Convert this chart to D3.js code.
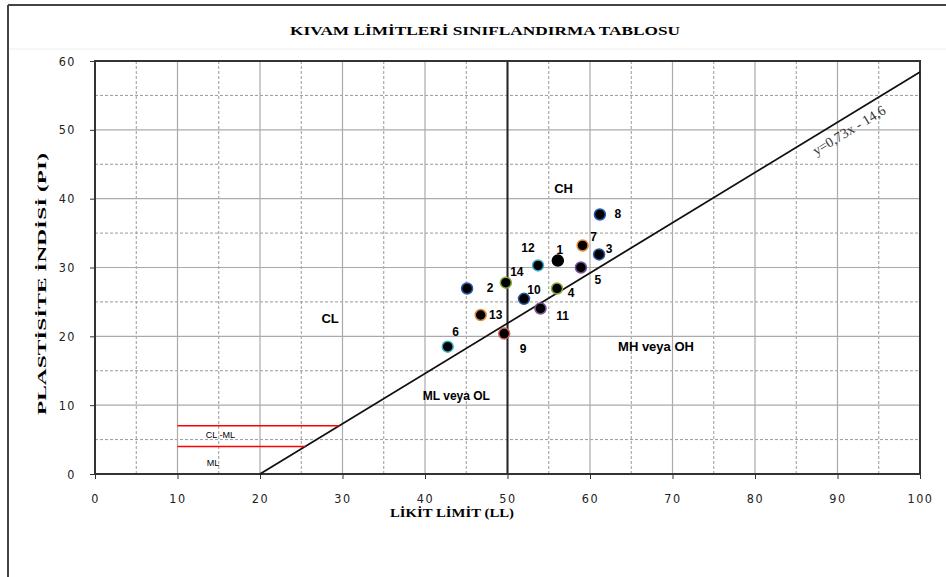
<!DOCTYPE html>
<html><head><meta charset="utf-8">
<script src="https://cdn.jsdelivr.net/npm/d3@7"></script>
<style>html,body{margin:0;padding:0;background:#fff}svg{display:block}</style>
</head><body>
<script>
// ---- data ----
const sampleIds = [1,2,3,4,5,6,7,8,9,10,11,12,13,14];
const liquidLimit = [56.1,45.1,61.1,56.0,58.9,42.75,59.1,61.2,49.6,52.0,54.0,53.7,46.75,49.8];
const plasticityIndex = [31.0,26.95,31.9,26.95,30.0,18.5,33.2,37.7,20.4,25.45,24.05,30.3,23.1,27.8];
const xTicks = [0,10,20,30,40,50,60,70,80,90,100];
const yTicks = [0,10,20,30,40,50,60];
const aLine = {slope:0.73, intercept:-14.6, x0:20, x1:100};
const clmlUpper = {y:7, x0:10};
const clmlLower = {y:4, x0:10};
const zoneLabels = [
  {text:"CH", x:56.8, y:41.5, size:13},
  {text:"CL", x:28.5, y:22.6, size:13},
  {text:"MH veya OH", x:68, y:18.5, size:13},
  {text:"ML veya OL", x:43.8, y:11.3, size:12}
];

// ---- layout / style ----
const edgeColors = ["#000","#2a5aa8","#2a5aa8","#86ad3a","#7b4f9e","#3fb0cf","#e28a3a","#2a5aa8","#d0605c","#2a5aa8","#7b4f9e","#3fb0cf","#e28a3a","#86ad3a"];
const labelOffsets = [[2,-11],[23,0],[10,-5],[14,5],[17,12],[8,-15],[11,-8],[18,0],[19,15],[10,-9],[22,8],[-10,-17],[15,0],[11,-11]];

const W=946,H=577;
const svg=d3.select("body").append("svg").attr("width",W).attr("height",H);
const L=95,R=920,T=61,B=474;
const x=d3.scaleLinear().domain([0,100]).range([L,R]);
const y=d3.scaleLinear().domain([0,60]).range([B,T]);

// outer frame
svg.append("line").attr("x1",8).attr("x2",8).attr("y1",5).attr("y2",H).attr("stroke","#444").attr("stroke-width",2);
svg.append("line").attr("x1",8).attr("x2",W).attr("y1",5).attr("y2",5).attr("stroke","#444").attr("stroke-width",2);
svg.append("line").attr("x1",9).attr("x2",W).attr("y1",49).attr("y2",49).attr("stroke","#eee").attr("stroke-width",1);

// title
svg.append("text").attr("x",485).attr("y",35).attr("text-anchor","middle")
  .attr("font-family","Liberation Serif").attr("font-weight","bold").attr("font-size",13)
  .attr("textLength",390).attr("lengthAdjust","spacingAndGlyphs")
  .text("KIVAM LİMİTLERİ SINIFLANDIRMA TABLOSU");

// grid
const g=svg.append("g");
const minorX=d3.range(5,100,10), minorY=d3.range(5,60,10);
g.selectAll(".vmin").data(minorX).join("line").attr("x1",d=>x(d)).attr("x2",d=>x(d)).attr("y1",T).attr("y2",B)
  .attr("stroke","#999").attr("stroke-dasharray","3,2").attr("stroke-width",1);
g.selectAll(".hmin").data(minorY).join("line").attr("y1",d=>y(d)).attr("y2",d=>y(d)).attr("x1",L).attr("x2",R)
  .attr("stroke","#999").attr("stroke-dasharray","3,2").attr("stroke-width",1);
g.selectAll(".vmaj").data(xTicks.slice(1,-1)).join("line").attr("x1",d=>x(d)).attr("x2",d=>x(d)).attr("y1",T).attr("y2",B)
  .attr("stroke","#aaa").attr("stroke-width",1.2);
g.selectAll(".hmaj").data(yTicks.slice(1,-1)).join("line").attr("y1",d=>y(d)).attr("y2",d=>y(d)).attr("x1",L).attr("x2",R)
  .attr("stroke","#aaa").attr("stroke-width",1.2);

// LL=50 divider
svg.append("line").attr("x1",x(50)).attr("x2",x(50)).attr("y1",T).attr("y2",B).attr("stroke","#222").attr("stroke-width",2);

// axes
const xAxis=svg.append("g").attr("transform",`translate(0,${B})`).call(d3.axisBottom(x).tickValues(xTicks).tickSize(5).tickPadding(15));
const yAxis=svg.append("g").attr("transform",`translate(${L},0)`).call(d3.axisLeft(y).tickValues(yTicks).tickSize(5).tickPadding(14));
[xAxis,yAxis].forEach(a=>{
  a.select(".domain").remove();
  a.selectAll(".tick line").attr("stroke","#333").attr("stroke-width",1);
  a.selectAll(".tick text").attr("font-family","Liberation Sans Narrow, DejaVu Sans Condensed, sans-serif")
   .attr("font-size",12.5).attr("fill","#222").attr("letter-spacing","1.5px");
});
// plot border
svg.append("rect").attr("x",L).attr("y",T).attr("width",R-L).attr("height",B-T).attr("fill","none").attr("stroke","#333").attr("stroke-width",2);

// A-line
svg.append("line").attr("x1",x(aLine.x0)).attr("y1",y(aLine.slope*aLine.x0+aLine.intercept))
  .attr("x2",x(aLine.x1)).attr("y2",y(aLine.slope*aLine.x1+aLine.intercept)).attr("stroke","#111").attr("stroke-width",1.8);
const ang=Math.atan2(y(aLine.slope*aLine.x1+aLine.intercept)-y(aLine.slope*aLine.x0+aLine.intercept), x(aLine.x1)-x(aLine.x0))*180/Math.PI;
svg.append("text").attr("transform",`translate(${x(91.4)},${y(49.9)}) rotate(${ang})`).attr("text-anchor","middle")
  .attr("dominant-baseline","central")
  .attr("font-family","Liberation Serif").attr("font-size",14).attr("fill","#333").text("y=0,73x - 14,6");

// CL-ML lines
[clmlUpper,clmlLower].forEach(s=>{
  const xe=(s.y-aLine.intercept)/aLine.slope;
  svg.append("line").attr("x1",x(s.x0)).attr("x2",x(xe)).attr("y1",y(s.y)).attr("y2",y(s.y)).attr("stroke","#f00").attr("stroke-width",1.6);
});
svg.append("text").attr("x",x(15.2)).attr("y",y(5.6)).attr("text-anchor","middle").attr("dominant-baseline","central")
  .attr("font-family","Liberation Sans").attr("font-size",9).text("CL -ML");
svg.append("text").attr("x",x(14.3)).attr("y",y(1.6)).attr("text-anchor","middle").attr("dominant-baseline","central")
  .attr("font-family","Liberation Sans").attr("font-size",9).text("ML");

// zone labels
svg.selectAll(".zone").data(zoneLabels).join("text").attr("x",d=>x(d.x)).attr("y",d=>y(d.y))
  .attr("text-anchor","middle").attr("dominant-baseline","central").attr("font-family","Liberation Sans")
  .attr("font-weight","bold").attr("font-size",d=>d.size).text(d=>d.text);

// points
const pts=sampleIds.map((id,i)=>({id,ll:liquidLimit[i],pi:plasticityIndex[i],c:edgeColors[i],o:labelOffsets[i]}));
svg.selectAll(".pt").data(pts).join("circle").attr("cx",d=>x(d.ll)).attr("cy",d=>y(d.pi)).attr("r",5.5)
  .attr("fill","#000").attr("stroke",d=>d.c).attr("stroke-width",1.5);
svg.selectAll(".pl").data(pts).join("text").attr("x",d=>x(d.ll)+d.o[0]).attr("y",d=>y(d.pi)+d.o[1])
  .attr("text-anchor","middle").attr("dominant-baseline","central").attr("font-family","Liberation Sans")
  .attr("font-weight","bold").attr("font-size",12).text(d=>d.id);

// axis titles
svg.append("text").attr("x",452).attr("y",517).attr("text-anchor","middle").attr("font-family","Liberation Serif")
  .attr("font-weight","bold").attr("font-size",13).attr("textLength",124).attr("lengthAdjust","spacingAndGlyphs").text("LİKİT LİMİT (LL)");
svg.append("text").attr("transform","translate(46,284) rotate(-90)").attr("text-anchor","middle").attr("font-family","Liberation Serif")
  .attr("font-weight","bold").attr("font-size",12).attr("textLength",262).attr("lengthAdjust","spacingAndGlyphs").text("PLASTİSİTE İNDİSİ (PI)");
</script>
</body></html>
